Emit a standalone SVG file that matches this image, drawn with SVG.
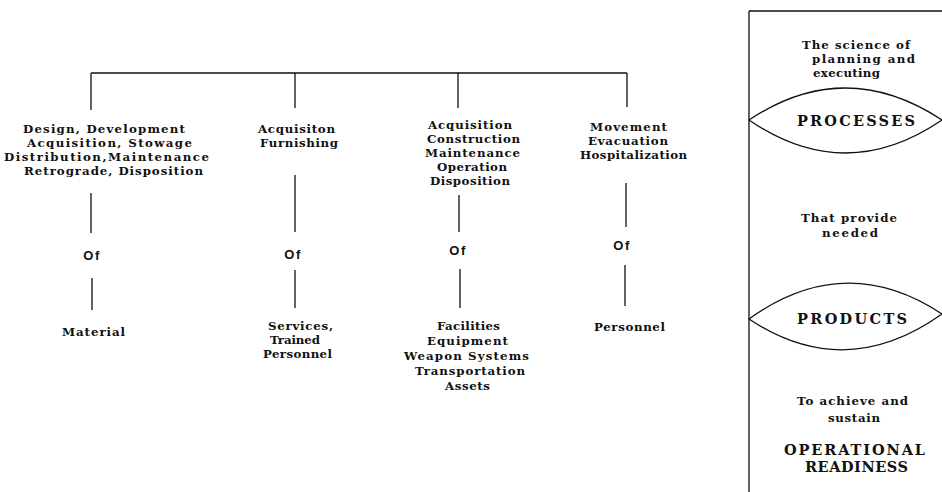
<svg xmlns="http://www.w3.org/2000/svg" width="942" height="492" viewBox="0 0 942 492">
<style>
.t{font-family:"DejaVu Serif","Liberation Serif",serif;font-weight:bold;font-size:11.8px;fill:#111}
.of{font-family:"Liberation Sans","DejaVu Sans",sans-serif;font-weight:bold;font-size:13px;fill:#111;text-anchor:middle;letter-spacing:1.5px}
.big{font-family:"DejaVu Serif","Liberation Serif",serif;font-weight:bold;font-size:14.5px;fill:#111}
.ln{stroke:#111;stroke-width:1.3;fill:none}
</style>
<rect width="942" height="492" fill="#fff"/>
<g id="connectors" class="ln">
<path d="M91 73H627"/>
<path d="M91 73V110M295 73V108M458 73V108M627 73V107"/>
<path d="M91 193V233M295 175V232M459 195V232M626 183V227"/>
<path d="M92 278V310M295 270V308M460 269V308M625 265V306"/>
</g>
<g id="col1-process">
<text class="t" x="23" y="133" textLength="162" lengthAdjust="spacing">Design, Development</text>
<text class="t" x="27" y="147" textLength="165" lengthAdjust="spacing">Acquisition, Stowage</text>
<text class="t" x="4" y="161" textLength="205" lengthAdjust="spacing">Distribution,Maintenance</text>
<text class="t" x="24" y="175" textLength="179" lengthAdjust="spacing">Retrograde, Disposition</text>
</g>
<g id="col2-process">
<text class="t" x="258" y="133" textLength="77" lengthAdjust="spacing">Acquisiton</text>
<text class="t" x="260" y="147" textLength="78" lengthAdjust="spacing">Furnishing</text>
</g>
<g id="col3-process">
<text class="t" x="428" y="129" textLength="84" lengthAdjust="spacing">Acquisition</text>
<text class="t" x="427" y="143" textLength="93" lengthAdjust="spacing">Construction</text>
<text class="t" x="425" y="157" textLength="95" lengthAdjust="spacing">Maintenance</text>
<text class="t" x="437" y="171" textLength="70" lengthAdjust="spacing">Operation</text>
<text class="t" x="430" y="185" textLength="80" lengthAdjust="spacing">Disposition</text>
</g>
<g id="col4-process">
<text class="t" x="590" y="131" textLength="77" lengthAdjust="spacing">Movement</text>
<text class="t" x="588" y="145" textLength="80" lengthAdjust="spacing">Evacuation</text>
<text class="t" x="580" y="159" textLength="107" lengthAdjust="spacing">Hospitalization</text>
</g>
<g id="of-labels">
<text class="of" x="92" y="260">Of</text>
<text class="of" x="293" y="259">Of</text>
<text class="of" x="458" y="255">Of</text>
<text class="of" x="622" y="250">Of</text>
</g>
<g id="col1-product">
<text class="t" x="62" y="336" textLength="63" lengthAdjust="spacing">Material</text>
</g>
<g id="col2-product">
<text class="t" x="268" y="330" textLength="65" lengthAdjust="spacing">Services,</text>
<text class="t" x="270" y="344" textLength="50" lengthAdjust="spacing">Trained</text>
<text class="t" x="263" y="358" textLength="69" lengthAdjust="spacing">Personnel</text>
</g>
<g id="col3-product">
<text class="t" x="437" y="330" textLength="63" lengthAdjust="spacing">Facilities</text>
<text class="t" x="427" y="345" textLength="81" lengthAdjust="spacing">Equipment</text>
<text class="t" x="404" y="360" textLength="125" lengthAdjust="spacing">Weapon Systems</text>
<text class="t" x="415" y="375" textLength="110" lengthAdjust="spacing">Transportation</text>
<text class="t" x="445" y="390" textLength="45" lengthAdjust="spacing">Assets</text>
</g>
<g id="col4-product">
<text class="t" x="594" y="331" textLength="71" lengthAdjust="spacing">Personnel</text>
</g>
<g id="logistics-panel">
<path class="ln" d="M749 11V492M749 11H942"/>
<text class="t" x="802" y="49" textLength="108" lengthAdjust="spacing">The science of</text>
<text class="t" x="812" y="63" textLength="103" lengthAdjust="spacing">planning and</text>
<text class="t" x="813" y="77" textLength="67" lengthAdjust="spacing">executing</text>
</g>
<g id="processes">
<path class="ln" d="M749 120Q845 56 942 120Q845 186 749 120Z"/>
<text class="big" x="797" y="126" textLength="118" lengthAdjust="spacing">PROCESSES</text>
</g>
<g id="that-provide">
<text class="t" x="801" y="222" textLength="96" lengthAdjust="spacing">That provide</text>
<text class="t" x="822" y="237" textLength="56" lengthAdjust="spacing">needed</text>
</g>
<g id="products">
<path class="ln" d="M749 319Q845 250 942 314Q845 383 749 319Z"/>
<text class="big" x="797" y="324" textLength="110" lengthAdjust="spacing">PRODUCTS</text>
</g>
<g id="readiness">
<text class="t" x="797" y="405" textLength="111" lengthAdjust="spacing">To achieve and</text>
<text class="t" x="828" y="422" textLength="52" lengthAdjust="spacing">sustain</text>
<text class="big" x="784" y="455" textLength="141" lengthAdjust="spacing">OPERATIONAL</text>
<text class="big" x="805" y="472" textLength="103" lengthAdjust="spacing">READINESS</text>
</g>
</svg>
